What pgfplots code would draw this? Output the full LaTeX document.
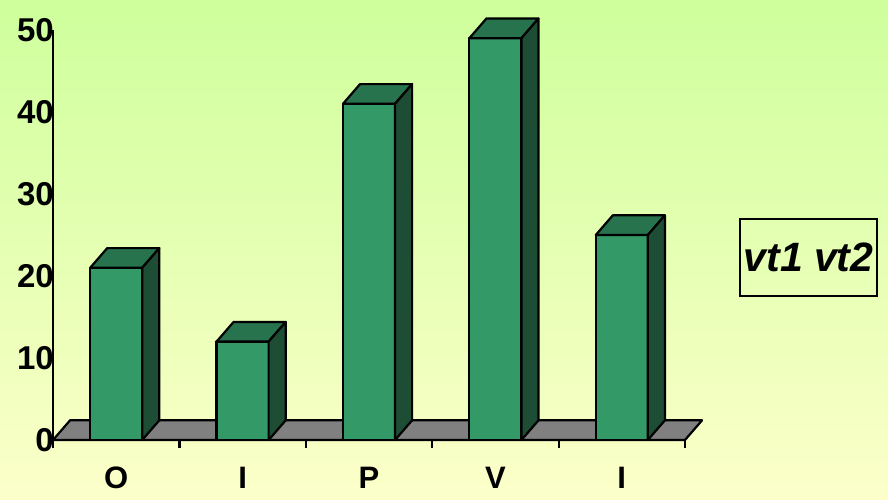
\documentclass[border=0pt]{standalone}
\usepackage{fontspec}
\setmainfont{Liberation Sans}
\usepackage{pgfplots}
\pgfplotsset{compat=1.18}
\usepackage{pgfplotstable}
\definecolor{bgtop}{RGB}{206,255,156}
\definecolor{bgbot}{RGB}{252,255,202}
\definecolor{barfront}{RGB}{51,153,102}
\definecolor{bartop}{RGB}{38,115,77}
\definecolor{barside}{RGB}{29,77,52}
\definecolor{floorgray}{RGB}{128,128,128}

\pgfplotstableread{
idx val
0 21
1 12
2 41
3 49
4 25
}\bardata

\begin{document}
\begin{tikzpicture}[x=1pt,y=1pt]
\shade[top color=bgtop, bottom color=bgbot] (0,0) rectangle (888,500);
\begin{axis}[
  at={(53pt,60pt)}, anchor=south west,
  scale only axis, width=632pt, height=410pt,
  xmin=-0.5, xmax=4.5, ymin=0, ymax=50,
  clip=false,
  axis x line*=bottom, axis y line*=left,
  axis line style={line width=2.2pt, -},
  /pgf/number format/assume math mode=true,
  ytick={0,10,...,50},
  ytick style={draw=none},
  yticklabel style={anchor=east, inner sep=0pt, xshift=9pt, font=\fontsize{33}{35}\selectfont\bfseries},
  xtick={-0.5,0.5,...,4.5}, xticklabels={},
  xtick style={line width=2.2pt, black},
  major tick length=8pt,
  tick align=outside,
  extra x ticks={0,1,2,3,4},
  extra x tick labels={O,I,P,V,I},
  extra x tick style={major tick length=0pt, xticklabel style={anchor=north, inner sep=0pt, yshift=-27pt, font=\fontsize{31}{33}\selectfont\bfseries}},
  line join=round,
]
% floor
\addplot[fill=floorgray, draw=black, line width=2.2pt] coordinates {(-0.5,0) (4.5,0) (4.635,2.4) (-0.365,2.4)} -- cycle;
\pgfplotsinvokeforeach{0,...,4}{
  \pgfplotstablegetelem{#1}{val}\of\bardata
  \pgfmathsetmacro\v{\pgfplotsretval}
  \pgfmathsetmacro\vt{\pgfplotsretval+2.4}
  \pgfmathsetmacro\xl{#1-0.206}
  \pgfmathsetmacro\xr{#1+0.206}
  \pgfmathsetmacro\xlb{#1-0.206+0.135}
  \pgfmathsetmacro\xrb{#1+0.206+0.135}
  \addplot[fill=barfront, draw=black, line width=2.2pt] coordinates {(\xl,0) (\xr,0) (\xr,\v) (\xl,\v)} -- cycle;
  \addplot[fill=bartop, draw=black, line width=2.2pt] coordinates {(\xl,\v) (\xr,\v) (\xrb,\vt) (\xlb,\vt)} -- cycle;
  \addplot[fill=barside, draw=black, line width=2.2pt] coordinates {(\xr,0) (\xrb,2.4) (\xrb,\vt) (\xr,\v)} -- cycle;
}
\end{axis}
\node[draw, line width=2.2pt, minimum width=137pt, minimum height=77pt, inner sep=0pt,
  font=\fontsize{41}{43}\selectfont\bfseries\itshape] at (808.5,242.5) {vt1 vt2};
\pgfresetboundingbox
\path (0,0) rectangle (888,500);
\end{tikzpicture}
\end{document}
